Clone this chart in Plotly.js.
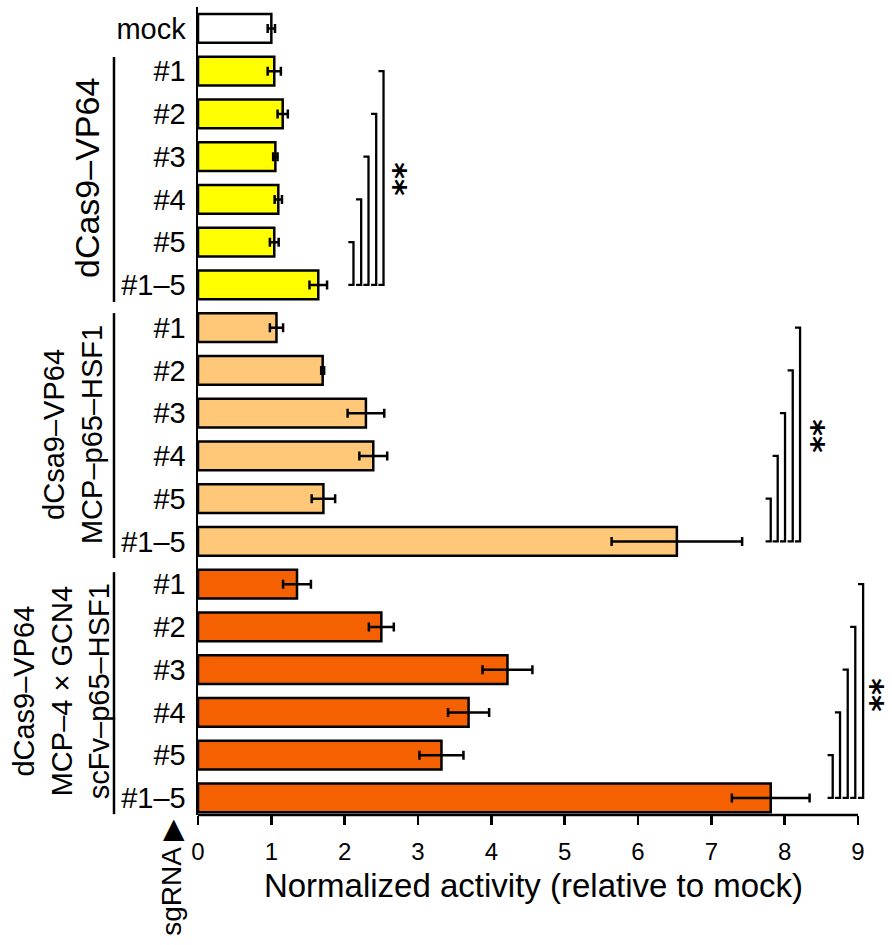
<!DOCTYPE html>
<html><head><meta charset="utf-8">
<script src="https://cdn.plot.ly/plotly-3.0.1.min.js"></script>
<style>html,body{margin:0;padding:0;background:#fff}</style>
</head><body><div id="chart" style="width:892px;height:945px"></div>
<script>
// ---- data ----
const sgLabels = ['#1', '#2', '#3', '#4', '#5', '#1–5'];
const mockLabel = ['mock'];
const mockVal = [1.00];
const mockErr = [0.05];
const g1Vals = [1.04, 1.155, 1.055, 1.095, 1.04, 1.64];
const g1Err  = [0.09, 0.07, 0.03, 0.05, 0.06, 0.12];
const g2Vals = [1.07, 1.70, 2.29, 2.39, 1.71, 6.53];
const g2Err  = [0.09, 0.02, 0.25, 0.19, 0.16, 0.89];
const g3Vals = [1.35, 2.50, 4.22, 3.69, 3.32, 7.81];
const g3Err  = [0.19, 0.17, 0.34, 0.28, 0.30, 0.53];
const groupNames = ['dCas9–VP64', 'dCsa9–VP64<br>MCP–p65–HSF1', 'dCas9–VP64<br>MCP–4 × GCN4<br>scFv–p65–HSF1'];
const xTicks = [0, 1, 2, 3, 4, 5, 6, 7, 8, 9];
const xTitle = 'Normalized activity (relative to mock)';
const sgTitle = 'sgRNA ▶';
const sigText = '**';

// ---- styles ----
const FONT = 'Liberation Sans, Arial, Helvetica, sans-serif';
const colors = ['#FFFFFF', '#FFFF00', '#FFC878', '#F56100'];
const allLabels = mockLabel.concat(sgLabels, sgLabels, sgLabels);
const groups = [
  {v: mockVal, e: mockErr, start: 0},
  {v: g1Vals, e: g1Err, start: 1},
  {v: g2Vals, e: g2Err, start: 7},
  {v: g3Vals, e: g3Err, start: 13}
];
const traces = groups.map((g, k) => ({
  type: 'bar', orientation: 'h',
  x: g.v, y: g.v.map((_, i) => g.start + i),
  width: 0.67,
  marker: {color: colors[k], line: {color: '#000', width: 2.5}},
  error_x: {type: 'data', array: g.e, visible: true, color: '#000', thickness: 2.5, width: 4.5},
  hoverinfo: 'skip', showlegend: false
}));

const shapes = [];
// x axis line from 0 to 9
shapes.push({type: 'line', xref: 'x', yref: 'paper', x0: 0, x1: 9, y0: 0, y1: 0, line: {color: '#000', width: 2.5}});
// group separator lines (left)
const sepX = -0.1252;
const sepRanges = [[0.67, 6.40], [6.66, 12.39], [12.72, 18.38]];
sepRanges.forEach(r => shapes.push({type: 'line', xref: 'paper', yref: 'y', x0: sepX, x1: sepX, y0: r[0], y1: r[1], line: {color: '#000', width: 2.5}}));
// significance brackets
const bracketX = [[2.12, 2.225, 2.325, 2.43, 2.53], [7.81, 7.905, 8.005, 8.11, 8.21], [8.655, 8.755, 8.86, 8.963, 9.07]];
const tick = 0.07;
bracketX.forEach((xs, gi) => {
  const start = 1 + gi * 6;
  const bottom = start + 5;
  xs.forEach((bx, j) => {
    const top = start + 4 - j;
    shapes.push({type: 'path', xref: 'x', yref: 'y',
      path: `M ${bx - tick},${top} L ${bx},${top} L ${bx},${bottom} L ${bx - tick},${bottom}`,
      line: {color: '#000', width: 2.3}});
  });
});

const annotations = [];
const groupLabelX = [-0.1654, -0.187, -0.204];
const groupLabelSize = [34, 29, 29];
groupNames.forEach((n, gi) => annotations.push({
  text: n, xref: 'paper', yref: 'y', x: groupLabelX[gi], y: 3.5 + gi * 6,
  textangle: -90, showarrow: false, xanchor: 'center', yanchor: 'middle',
  font: {family: FONT, size: groupLabelSize[gi], color: '#000'}
}));
// significance marks: anchored by right edge of their box
const sigX = [0.3243, 0.9463, 1.0343];
const sigY = [3.52, 9.54, 15.6];
sigX.forEach((sx, gi) => annotations.push({
  text: sigText, xref: 'paper', yref: 'y', x: sx, y: sigY[gi], textangle: 90,
  showarrow: false, xanchor: 'right', yanchor: 'middle', borderpad: 0,
  font: {family: 'DejaVu Sans, sans-serif', size: 32, weight: 'bold', color: '#000'}
}));
annotations.push({
  text: sgTitle, xref: 'paper', yref: 'paper', x: -0.0407, y: -0.0768, textangle: -90,
  showarrow: false, xanchor: 'center', yanchor: 'middle',
  font: {family: FONT, size: 28, color: '#000'}
});

const layout = {
  width: 892, height: 945,
  margin: {l: 198, r: 23, t: 7, b: 130},
  paper_bgcolor: '#fff', plot_bgcolor: '#fff',
  font: {family: FONT, color: '#000'},
  bargap: 0.33,
  xaxis: {
    range: [0, 9.15], showline: false, showgrid: false, zeroline: false,
    tickvals: xTicks, ticks: 'outside', ticklen: 9, tickwidth: 2.5, tickcolor: '#000',
    tickfont: {family: FONT, size: 24, color: '#000'}, ticklabelstandoff: 6,
    title: {text: xTitle, font: {family: FONT, size: 33, color: '#000'}, standoff: 10},
    fixedrange: true
  },
  yaxis: {
    range: [18.4, -0.5], showline: true, linecolor: '#000', linewidth: 2.5,
    showgrid: false, zeroline: false, ticks: '',
    tickvals: allLabels.map((_, i) => i), ticktext: allLabels,
    tickfont: {family: FONT, size: 29, color: '#000'}, ticklabelstandoff: 4,
    fixedrange: true
  },
  shapes: shapes,
  annotations: annotations
};
Plotly.newPlot('chart', traces, layout, {displayModeBar: false, staticPlot: true});
</script></body></html>
